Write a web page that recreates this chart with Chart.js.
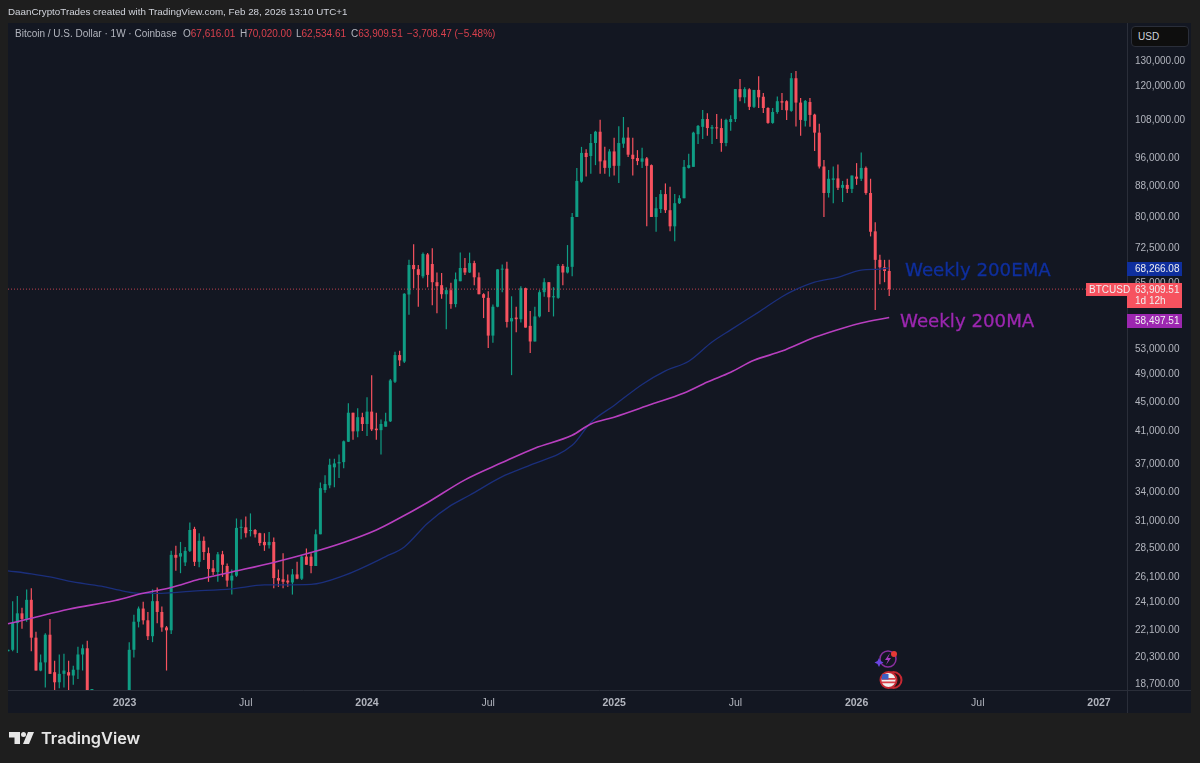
<!DOCTYPE html>
<html>
<head>
<meta charset="utf-8">
<title>BTCUSD weekly</title>
<script src="https://cdn.jsdelivr.net/npm/chart.js@4"></script>
<style>
  html, body { margin: 0; padding: 0; background: #1e1e1e; overflow: hidden; }
  #wrap { position: relative; width: 1200px; height: 763px; font-family: "Liberation Sans", sans-serif; }
  #wrap canvas { position: absolute; left: 0; top: 0; }
  .txt { position: absolute; white-space: nowrap; }
  #byline { left: 8px; top: 6px; font-size: 9.8px; color: #d1d4dc; }
  #legend { left: 15px; top: 28px; font-size: 10px; color: #b2b5be; }
  #legend b { font-weight: normal; color: #d8404d; }
  #legend span { position: absolute; top: 0; }
  #ema200 { left: 905px; top: 259px; font: 18.2px "DejaVu Sans", sans-serif; color: #0f2f9e; -webkit-text-stroke: 0.3px #0f2f9e; }
  #ma200 { left: 900px; top: 310px; font: 18.2px "DejaVu Sans", sans-serif; color: #9c27b0; -webkit-text-stroke: 0.3px #9c27b0; }
  #usd { left: 1131px; top: 26px; width: 50px; height: 19px; padding-left: 6px; line-height: 20px; font-size: 10px;
         color: #d1d4dc; background: #0e0e0e; border: 1px solid #2a2e39; border-radius: 4px; }
  #brand { left: 41px; top: 728px; font: 600 16.3px Inter, sans-serif; color: #e6e6e6; }
  svg { position: absolute; }
</style>
</head>
<body>
<div id="wrap">
  <canvas id="btcChart" width="1200" height="763"></canvas>
  <div class="txt" id="byline">DaanCryptoTrades created with TradingView.com, Feb 28, 2026 13:10 UTC+1</div>
  <div class="txt" id="legend">Bitcoin / U.S. Dollar · 1W · Coinbase
    <span style="left:168px">O<b>67,616.01</b></span>
    <span style="left:225px">H<b>70,020.00</b></span>
    <span style="left:281px">L<b>62,534.61</b></span>
    <span style="left:336px">C<b>63,909.51</b></span>
    <span style="left:392px"><b>−3,708.47 (−5.48%)</b></span>
  </div>
  <div class="txt" id="usd">USD</div>
  <div class="txt" id="ema200">Weekly 200EMA</div>
  <div class="txt" id="ma200">Weekly 200MA</div>
  <div class="txt" id="brand">TradingView</div>

  <svg style="left:0;top:725px" width="40" height="25">
    <path fill="#e6e6e6" d="M9 7h11v12h-5.500v-6.500H9z"/>
    <circle fill="#e6e6e6" cx="23.500" cy="9.500" r="2.500"/>
    <path fill="#e6e6e6" d="M34 7l-5 12h-6l5-12z"/>
  </svg>
  <svg style="left:874px;top:648px" width="32" height="44">
    <circle cx="14" cy="11" r="8" fill="none" stroke="#8a2fa0" stroke-width="1.500"/>
    <path fill="#a93cc0" d="M16 5l-5 7h3l-2 5 5-7h-3z"/>
    <path fill="#6a45e0" d="M5 10l1.500 3L9.500 14.500l-3 1.500L5 19l-1.500-3L.5 14.500l3-1.500z"/>
    <circle cx="20" cy="6" r="3" fill="#e53935"/>
    <circle cx="19.500" cy="32" r="8" fill="#2a1216" stroke="#c62833" stroke-width="2"/>
    <circle cx="14.500" cy="32" r="8" fill="#f0f0f0" stroke="#c62833" stroke-width="2"/>
    <path fill="#d9404a" d="M8 30h13v1.800H8zM8 33.500h13v1.800H8z"/>
    <path fill="#3d5fc4" d="M8.500 26h6v5.500h-7z"/>
  </svg>
</div>
<script>
// weekly candles, first week is 11 Jul 2022
const firstWeek = Date.UTC(2022, 6, 11);
const weekCount = 241;

const opens = [
  20700,20800,22600,23300,22900,24300,21600,19500,20000,21800,19400,18800,19300,19400,19200,19550,20500,20900,16300,16300,16430,16960,17100,16750,16850,
  // 2023
  16600,17180,20800,22700,23650,22800,21700,24200,23400,22300,22100,27950,27800,27300,28300,30300,27350,29200,28100,26800,26500,28000,27000,25800,26200,30400,
  30450,30100,30200,29900,29100,28800,29100,26000,25900,25800,25650,26300,25950,27800,27800,27000,29800,34200,34700,36700,37150,37300,39750,43500,41050,42900,
  // 2024
  42000,43650,41400,41200,41650,42350,47900,52050,51000,62850,68900,68000,66500,71200,69100,65300,64700,62900,63700,61000,65500,68250,67300,69300,66300,62900,
  62200,55300,60500,67900,68100,57800,58500,58200,64100,57000,54300,58700,63300,65300,62300,62200,68700,67300,68500,80000,89300,97650,96700,100700,104300,95400,93200,
  // 2025
  98100,93800,100500,102400,97100,96100,95000,96000,94000,80000,82000,85900,81700,77700,83500,84800,93200,93500,103500,105900,108500,105300,105700,105500,100700,107500,
  108500,119100,116100,119000,112700,118800,116300,112300,107200,110900,114700,114700,111300,123200,114200,107900,114400,110000,104000,93600,86200,89800,90200,87600,88400,87300,
  // 2026
  90700,90100,93200,86200,76500,70000,68400,67616.01
];
const highs = [
  20800,24200,24600,23700,25100,25200,22000,20500,21900,22900,20100,20500,20550,20100,19800,21000,21150,21400,17150,16800,17400,17450,18200,17050,16950,
  17350,21300,23200,23800,24150,23400,25100,25250,23800,22400,28300,28750,29100,28650,30900,30500,29900,29600,28600,27500,28200,28300,27200,26700,31300,31200,
  31500,31800,30300,29950,29900,30000,29500,26700,28100,26300,26750,27350,27850,28500,28100,30250,35000,35800,37700,37700,38200,39900,44800,43500,44100,43500,
  45650,48900,43500,42600,43500,48300,52600,52750,63100,70000,73500,68900,71600,71500,72600,67300,67200,64300,65200,67300,71600,70400,71600,69800,67300,63100,
  63500,60900,68000,69000,69600,62500,60500,64500,64200,59700,60500,63700,66100,65300,64300,69100,69100,73300,81000,93200,99500,98800,103600,104600,108300,99500,98800,
  102400,106100,109200,105800,102400,98500,99200,96400,94200,85100,87000,88800,87900,85900,85600,95500,97400,104300,106500,111600,110500,106500,110200,108600,108600,109800,
  119100,122900,119800,119400,118800,124000,117700,112600,112300,116400,117700,115000,125200,126000,115800,115100,115800,110300,106900,95500,92600,93600,94200,89500,90100,91000,
  94600,97800,93600,90100,78700,71100,70000,70020
];
const lows = [
  20700,20700,20600,22200,22700,20700,19500,19450,18500,19300,18150,18450,18500,18200,18650,19000,19500,15600,15800,15500,16000,16700,16300,16400,16350,
  16500,17150,20300,22300,22500,21450,21300,22600,22000,19500,21850,26600,26400,27000,28200,27000,26900,27500,25700,26250,25700,26100,25300,24700,26100,29350,
  29500,29600,29500,28750,28300,28500,25200,25300,25200,25300,24700,25900,25850,27100,26400,27000,29800,33900,34400,34500,35500,36600,39700,40000,40300,41100,
  40450,41100,40000,38200,41650,42250,47700,50300,50800,59000,64100,60500,66100,64300,60800,59300,62000,56400,60100,60400,65500,66800,67200,64700,62900,58400,
  53200,54100,60400,63300,56700,48900,55900,57600,56700,52400,54300,58500,62400,59500,58700,62000,64700,67100,66500,80000,89000,90700,91500,94000,91500,91500,90700,
  91000,88900,99200,96400,91000,94000,93200,77700,80000,76400,81000,81000,76500,74200,83300,84800,93000,93500,100400,102000,103000,100400,102000,98000,99700,104600,
  107500,114700,114000,111600,112300,112300,110600,106900,106900,110300,111600,108200,111000,106000,103000,106000,105900,98200,93000,80000,85000,83500,87000,83800,86200,86200,
  88400,89500,85700,75300,59900,64900,65300,62534.61
];
const closes = [
  20800,22600,23300,22900,24300,21600,19500,20000,21800,19300,18800,19300,19500,19200,19550,20500,20900,16300,16300,16430,16960,17100,16750,16850,16600,
  17180,20800,22700,23650,22800,21700,24200,23400,22300,22100,27950,27700,28100,28300,30200,27350,29200,28200,26750,26500,28000,27100,25800,26200,30400,30450,
  29900,30200,29800,29000,28800,29100,26000,25800,25700,25650,26300,25950,27800,27100,27000,29800,34400,34850,37000,37150,37300,39800,43500,41050,42900,42000,
  43650,41300,41200,42000,42350,48100,52050,51200,63000,68900,68000,66800,71300,66800,65300,64500,62900,63700,61000,65900,68250,67300,69300,66300,62900,62200,
  55300,60500,67950,68100,57700,58400,58200,64100,56700,54300,58700,63300,65300,62300,62500,68700,67300,68500,80000,89500,97650,96400,100700,104300,95100,93200,98100,
  93800,100700,102400,97100,95800,95200,96000,93800,80000,82200,85900,81700,77700,83500,84800,93500,94000,104000,106200,108500,105500,105800,105400,100700,108200,108500,
  119100,116100,119100,112700,118800,116100,112300,107200,110900,114700,114200,111500,123200,114200,108200,114800,109900,104000,93600,86200,90100,90200,87600,88400,87300,91000,
  90100,93200,86200,76400,70000,68400,67616.01,63909.51
];

// moving averages, sampled along the curves (week number, price)
const emaWeeks = [0,5,9,13,20,25,28,33,39,48,55,65,72,81,85,90,95,99,106,112,121,125,130,136,141,146,151,155,161,166,168,173,178,183,187,189];
const emaValues = [26600,26350,26100,25750,25350,24950,24800,24800,24950,25150,25450,25500,26200,27800,28650,30850,32600,33650,35650,36950,39300,42200,44500,47500,49550,51050,54200,56300,59500,62400,63400,65300,66300,67800,68000,68266.08];
const maWeeks = [0,5,13,23,29,35,41,48,57,65,72,79,83,90,98,106,113,121,125,130,138,145,150,155,160,166,173,179,183,189];
const maValues = [22550,22950,23600,24250,24800,25250,25900,26500,27300,28150,29050,30200,31100,32900,35300,37250,38950,40550,42000,42900,44650,46250,47850,49350,51200,52700,55000,56600,57500,58497.51];

const lastPrice = 63909.51;
const priceTicks = [130000,120000,108000,96000,88000,80000,72500,65000,58000,53000,49000,45000,41000,37000,34000,31000,28500,26100,24100,22100,20300,18700];

const upColor = '#0f9d84';
const downColor = '#f7525f';

const weeks = [];
for (let i = 0; i < weekCount; i++) {
  weeks.push(new Date(firstWeek + i * 7 * 86400000).toISOString().slice(0, 10));
}

const timeLabels = {
  '2023-01-02': '2023', '2023-07-03': 'Jul',
  '2024-01-01': '2024', '2024-07-01': 'Jul',
  '2025-01-06': '2025', '2025-07-07': 'Jul',
  '2026-01-05': '2026', '2026-07-06': 'Jul',
  '2027-01-04': '2027'
};

const candleColors = opens.map((o, i) => closes[i] >= o ? upColor : downColor);
const wicks = lows.map((l, i) => [l, highs[i]]);
const bodies = opens.map((o, i) => [o, closes[i]]);

const money = v => v.toLocaleString('en-US', { minimumFractionDigits: 2, maximumFractionDigits: 2 });

// last value tags on the price axis
const priceTags = [
  { value: 68266.08, color: '#0f2f9e', top: -6 },
  { value: lastPrice, color: '#f7525f', top: -6, height: 25, extra: '1d 12h' },
  { value: 58497.51, color: '#9c27b0', top: -4 }
];

const panel = {
  id: 'panel',
  beforeDraw(chart) {
    const c = chart.ctx, a = chart.chartArea;
    c.save();
    c.fillStyle = '#131722';
    c.fillRect(8, 23, 1183, 690);
    c.strokeStyle = '#2a2e39';
    c.lineWidth = 1;
    c.beginPath();
    c.moveTo(a.right + 0.5, 23);
    c.lineTo(a.right + 0.5, 713);
    c.moveTo(8, a.bottom + 0.5);
    c.lineTo(1191, a.bottom + 0.5);
    c.stroke();
    c.restore();
  },
  afterDraw(chart) {
    const c = chart.ctx, a = chart.chartArea, y = chart.scales.y;
    c.save();
    c.font = '10px "Liberation Sans"';
    c.textBaseline = 'middle';
    priceTags.forEach(t => {
      const py = Math.round(y.getPixelForValue(t.value));
      const h = t.height || 14;
      c.fillStyle = t.color;
      c.fillRect(a.right, py + t.top, 55, h);
      c.fillStyle = '#f0f0f0';
      c.fillText(money(t.value), a.right + 8, py + t.top + 7);
      if (t.extra) c.fillText(t.extra, a.right + 8, py + t.top + 18);
    });
    const py = Math.round(y.getPixelForValue(lastPrice));
    c.fillStyle = '#f7525f';
    c.fillRect(a.right - 41, py - 6, 41, 13);
    c.fillStyle = '#f0f0f0';
    c.fillText('BTCUSD', a.right - 38, py + 1);
    c.restore();
  }
};

new Chart(document.getElementById('btcChart').getContext('2d'), {
  type: 'bar',
  data: {
    labels: weeks,
    datasets: [
      {
        type: 'line', label: 'Weekly 200MA', order: 0,
        data: maWeeks.map((w, i) => ({ x: weeks[w], y: maValues[i] })),
        borderColor: '#b83fbf', borderWidth: 1.6, pointRadius: 0, cubicInterpolationMode: 'monotone'
      },
      {
        type: 'line', label: 'Weekly 200EMA', order: 0,
        data: emaWeeks.map((w, i) => ({ x: weeks[w], y: emaValues[i] })),
        borderColor: '#1b2f7c', borderWidth: 1.3, pointRadius: 0, cubicInterpolationMode: 'monotone'
      },
      {
        type: 'line', label: 'Last price', order: 0,
        data: [{ x: weeks[0], y: lastPrice }, { x: weeks[weekCount - 1], y: lastPrice }],
        borderColor: 'rgba(247,82,95,0.75)', borderWidth: 1, borderDash: [1, 2], pointRadius: 0
      },
      {
        label: 'Wick', order: 2, data: wicks, backgroundColor: candleColors,
        barThickness: 1.2, grouped: false, borderWidth: 0, inflateAmount: 0
      },
      {
        label: 'Body', order: 1, data: bodies, backgroundColor: candleColors,
        barThickness: 3, minBarLength: 1, grouped: false, borderWidth: 0, inflateAmount: 0
      }
    ]
  },
  plugins: [panel],
  options: {
    responsive: false,
    animation: false,
    devicePixelRatio: 1,
    layout: { padding: { left: 8, right: 9, top: 23, bottom: 50 } },
    plugins: { legend: { display: false }, tooltip: { enabled: false } },
    scales: {
      x: {
        offset: false,
        grid: { display: false, drawTicks: false },
        border: { display: false },
        afterFit: s => { s.height = 23; },
        ticks: {
          autoSkip: false, maxRotation: 0, padding: 7,
          color: '#b2b5be',
          font: ctx => ({ family: '"Liberation Sans"', size: 10.5, weight: ctx.tick && ctx.tick.label !== 'Jul' ? 'bold' : 'normal' }),
          callback(value) { return timeLabels[this.getLabelForValue(value)] || ''; }
        }
      },
      y: {
        type: 'logarithmic',
        position: 'right',
        min: 18354,
        max: 146300,
        grid: { display: false, drawTicks: false },
        border: { display: false },
        afterBuildTicks: s => { s.ticks = priceTicks.map(v => ({ value: v })); },
        afterFit: s => { s.width = 64; },
        ticks: {
          autoSkip: false, padding: 8,
          color: '#b2b5be',
          font: { family: '"Liberation Sans"', size: 10 },
          callback: v => money(v)
        }
      }
    }
  }
});
</script>
</body>
</html>
